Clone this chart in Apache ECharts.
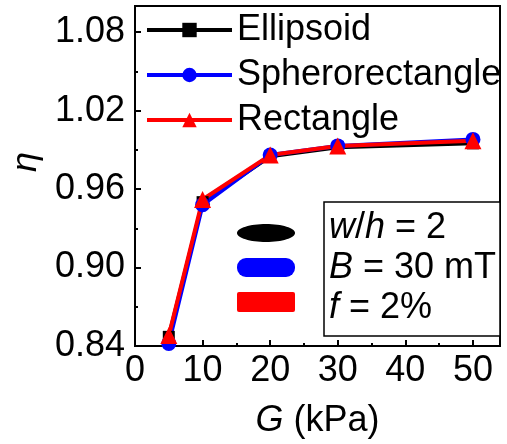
<!DOCTYPE html>
<html>
<head>
<meta charset="utf-8">
<script src="https://cdn.jsdelivr.net/npm/echarts@6/dist/echarts.min.js"></script>
<style>
  html, body { margin: 0; padding: 0; background: #fff; }
  #chart { width: 507px; height: 444px; }
</style>
</head>
<body>
<div id="chart"></div>
<script>
const G = [5, 10, 20, 30, 50];
const ellipsoid = [0.847, 0.950, 0.985, 0.992, 0.995];
const spherorectangle = [0.842, 0.948, 0.986, 0.993, 0.998];
const rectangle = [0.848, 0.952, 0.986, 0.993, 0.997];
const seriesNames = ["Ellipsoid", "Spherorectangle", "Rectangle"];
const insetLines = ["{i|w}/{i|h} = 2", "{i|B} = 30 mT", "{i|f} = 2%"];

const FONT = "'Liberation Sans', Arial, sans-serif";

const chart = echarts.init(document.getElementById("chart"));

function pairs(ys) {
  return G.map((g, i) => [g, ys[i]]);
}

function lineSeries(name, ys, color, symbol, size) {
  return {
    name: name,
    type: "line",
    data: pairs(ys),
    symbol: symbol,
    symbolSize: size,
    clip: false,
    lineStyle: { color: color, width: 4 },
    itemStyle: { color: color },
  };
}

chart.setOption({
  animation: false,
  backgroundColor: "#fff",
  textStyle: { fontFamily: FONT },
  grid: {
    left: 133,
    right: 7,
    top: 6,
    bottom: 96,
    show: true,
    borderColor: "#000",
    borderWidth: 2,
  },
  legend: {
    data: seriesNames,
    orient: "vertical",
    left: 140,
    top: 7,
    itemWidth: 85,
    itemHeight: 18,
    itemGap: 9,
    lineStyle: { width: 4 },
    textStyle: { fontSize: 36, color: "#000", fontFamily: FONT },
  },
  xAxis: {
    type: "value",
    min: 0,
    max: 54,
    interval: 10,
    name: "{i|G} (kPa)",
    nameLocation: "middle",
    nameGap: 57,
    nameTextStyle: {
      fontSize: 36,
      color: "#000",
      fontFamily: FONT,
      rich: { i: { fontStyle: "italic", fontSize: 36, fontFamily: FONT } },
    },
    axisLine: { lineStyle: { color: "#000", width: 2 } },
    axisTick: { inside: true, length: 6, lineStyle: { color: "#000", width: 2 } },
    minorTick: { show: true, splitNumber: 2, length: 3, lineStyle: { color: "#000", width: 2 } },
    axisLabel: { fontSize: 36, color: "#000", margin: 7, showMaxLabel: false },
    splitLine: { show: false },
  },
  yAxis: {
    type: "value",
    min: 0.84,
    max: 1.10,
    interval: 0.06,
    name: "η",
    nameLocation: "middle",
    nameGap: 91,
    nameTextStyle: {
      fontSize: 36,
      fontStyle: "italic",
      color: "#000",
      fontFamily: FONT,
      padding: [0, 0, 0, 28],
    },
    axisLine: { lineStyle: { color: "#000", width: 2 } },
    axisTick: { inside: true, length: 6, lineStyle: { color: "#000", width: 2 } },
    minorTick: { show: true, splitNumber: 2, length: 3, lineStyle: { color: "#000", width: 2 } },
    axisLabel: {
      fontSize: 36,
      color: "#000",
      margin: 10,
      showMaxLabel: false,
      formatter: (v) => v.toFixed(2),
    },
    splitLine: { show: false },
  },
  graphic: [
    {
      type: "rect",
      shape: { x: 324, y: 202, width: 176, height: 134 },
      style: { fill: "#fff", stroke: "#000", lineWidth: 1.5 },
      z: 10,
    },
    {
      type: "ellipse",
      shape: { cx: 266, cy: 233, rx: 29, ry: 9 },
      style: { fill: "#000" },
      z: 10,
    },
    {
      type: "rect",
      shape: { x: 237, y: 258, width: 58, height: 19, r: 9 },
      style: { fill: "#0000ff" },
      z: 10,
    },
    {
      type: "rect",
      shape: { x: 237, y: 292, width: 58, height: 20, r: 2 },
      style: { fill: "#ff0000" },
      z: 10,
    },
  ].concat(
    insetLines.map((t, k) => ({
      type: "text",
      left: 329,
      top: 210 + k * 40,
      z: 11,
      style: {
        text: t,
        fill: "#000",
        fontSize: 36,
        fontFamily: FONT,
        rich: { i: { fontStyle: "italic", fontSize: 36, fontFamily: FONT } },
      },
    }))
  ),
  series: [
    lineSeries(seriesNames[0], ellipsoid, "#000000", "rect", 12),
    lineSeries(seriesNames[1], spherorectangle, "#0000ff", "circle", 15),
    lineSeries(seriesNames[2], rectangle, "#ff0000", "triangle", 17),
  ],
});
</script>
</body>
</html>
